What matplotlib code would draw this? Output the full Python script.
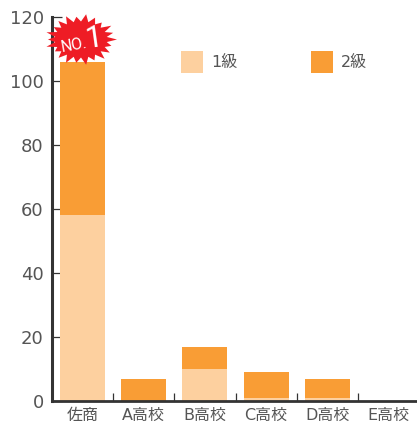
import math
import matplotlib
matplotlib.use("Agg")
import matplotlib.pyplot as plt
from matplotlib.patches import Polygon

plt.rcParams['font.family'] = ['DejaVu Sans', 'Noto Sans CJK JP']

categories = ['佐商', 'A高校', 'B高校', 'C高校', 'D高校', 'E高校']
grade1 = [58, 0, 10, 1, 1, 0]
grade2 = [48, 7, 7, 8, 6, 0]
yticks = [0, 20, 40, 60, 80, 100, 120]
series_names = ['1級', '2級']
color1 = '#FDD09F'
color2 = '#F99D35'
dark = '#333333'
text_c = '#555555'

W, H = 417, 428
fig = plt.figure(figsize=(W/100, H/100), dpi=100, facecolor='white')
ax = fig.add_axes([52/W, 1-401/H, 1-52/W, 384/H])

x = list(range(len(categories)))
b1 = ax.bar(x, grade1, width=0.735, color=color1, zorder=2)
b2 = ax.bar(x, grade2, width=0.735, bottom=grade1, color=color2, zorder=2)

ax.set_xlim(-0.5, 5.465)
ax.set_ylim(0, 120)
ax.set_yticks(yticks)
ax.set_xticks(x)
ax.set_xticklabels(categories, fontsize=11.5, color=text_c)
ax.set_xticks([i + 0.5 for i in range(5)], minor=True)
ax.tick_params(axis='x', which='major', length=0, pad=5)
ax.tick_params(axis='x', which='minor', direction='in', length=6, width=0.9, color=dark)
ax.tick_params(axis='y', direction='in', length=7, width=0.9, color=dark,
               labelsize=13, labelcolor=text_c, pad=6)
for side in ('top', 'right'):
    ax.spines[side].set_visible(False)
ax.spines['left'].set_linewidth(2.2)
ax.spines['left'].set_color(dark)
ax.spines['bottom'].set_linewidth(2.0)
ax.spines['bottom'].set_color(dark)
ax.spines['left'].set_zorder(3)
ax.spines['bottom'].set_zorder(3)

ax.legend([b1, b2], series_names, ncol=2, frameon=False, fontsize=11.5,
          labelcolor=text_c, handlelength=1.38, handleheight=1.75,
          handletextpad=0.5, columnspacing=4.6, borderpad=0, borderaxespad=0,
          loc='upper left', bbox_to_anchor=((181-52)/(W-52), (401-51)/384))

# "NO.1" burst badge, in pixel coordinates of the figure
radii = [1.0, 0.88, 0.95, 1.0, 0.9, 1.0, 0.92, 1.0, 0.95, 0.86, 1.0, 0.92,
         1.0, 0.9, 0.96, 1.0, 0.9, 1.0, 0.94, 0.88, 1.0, 0.93]
pts = []
n = len(radii)
for i, r in enumerate(radii):
    a = 2*math.pi*i/n
    pts.append((81 + 36*r*math.cos(a), H - (39.5 + 25.5*r*math.sin(a))))
    a2 = 2*math.pi*(i+0.5)/n
    pts.append((81 + 26*math.cos(a2), H - (39.5 + 18*math.sin(a2))))
badge = Polygon(pts, closed=True, transform=None, facecolor='#EE1C25',
                edgecolor='none', zorder=5)
fig.add_artist(badge)
fig.text(74/W, 1-45/H, 'NO.', fontsize=11.5, color='white', rotation=10,
         ha='center', va='center', zorder=6, family='Roboto')
fig.text(94/W, 1-38/H, '1', fontsize=22, color='white', rotation=8,
         ha='center', va='center', zorder=6, family='Roboto')

fig.savefig('out.png', dpi=100)
